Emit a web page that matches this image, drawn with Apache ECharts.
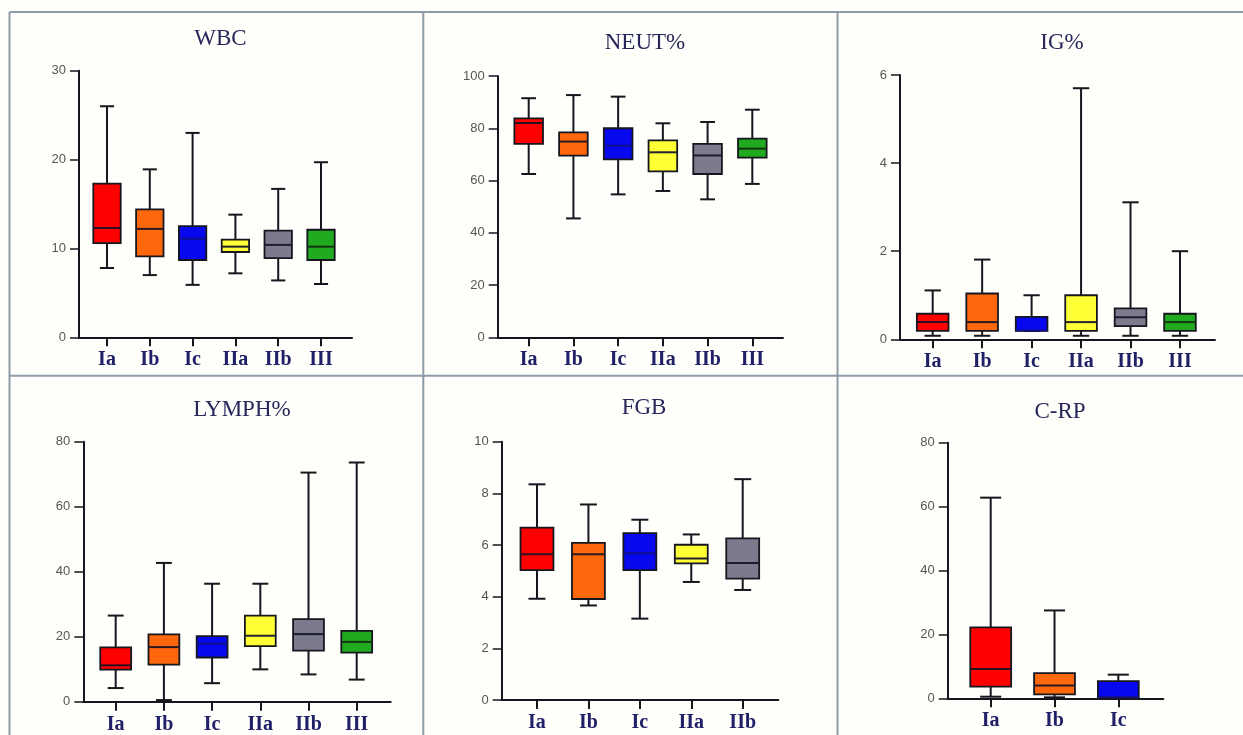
<!DOCTYPE html>
<html>
<head>
<meta charset="utf-8">
<script src="https://cdn.jsdelivr.net/npm/echarts@6/dist/echarts.min.js"></script>
<style>
html,body{margin:0;padding:0;background:#fefefb;}
#c{width:1243px;height:735px;}
</style>
</head>
<body>
<div id="c"></div>
<script>
// ---------- DATA ----------
const titles = ['WBC', 'NEUT%', 'IG%', 'LYMPH%', 'FGB', 'C-RP'];
const groupsSix = ['Ia', 'Ib', 'Ic', 'IIa', 'IIb', 'III'];
const groupsFGB = ['Ia', 'Ib', 'Ic', 'IIa', 'IIb'];
const groupsCRP = ['Ia', 'Ib', 'Ic'];
// each row: [min, Q1, median, Q3, max]
const wbc = [
  [7.8, 10.6, 12.3, 17.3, 26.0],
  [7.0, 9.1, 12.2, 14.4, 18.9],
  [5.9, 8.7, 11.1, 12.5, 23.0],
  [7.2, 9.6, 10.2, 11.0, 13.8],
  [6.4, 8.9, 10.4, 12.0, 16.7],
  [6.0, 8.7, 10.2, 12.1, 19.7]
];
const neut = [
  [62.5, 74.0, 82.0, 83.8, 91.5],
  [45.5, 69.5, 74.9, 78.4, 92.7],
  [54.7, 68.1, 73.3, 80.0, 92.1],
  [56.0, 63.5, 70.8, 75.4, 81.9],
  [52.8, 62.5, 69.6, 74.0, 82.4],
  [58.7, 68.8, 72.2, 76.0, 87.1]
];
const ig = [
  [0.08, 0.19, 0.39, 0.58, 1.11],
  [0.08, 0.19, 0.39, 1.04, 1.81],
  [0.19, 0.19, 0.20, 0.51, 1.00],
  [0.08, 0.19, 0.39, 1.00, 5.70],
  [0.08, 0.30, 0.50, 0.70, 3.11],
  [0.08, 0.19, 0.39, 0.58, 2.00]
];
const lymph = [
  [4.2, 9.85, 11.2, 16.7, 26.5],
  [0.5, 11.4, 16.8, 20.7, 42.7],
  [5.7, 13.6, 17.9, 20.2, 36.3],
  [9.95, 17.1, 20.3, 26.5, 36.3],
  [8.4, 15.7, 20.8, 25.4, 70.5],
  [6.8, 15.1, 18.4, 21.8, 73.6]
];
const fgb = [
  [3.92, 5.03, 5.64, 6.67, 8.35],
  [3.66, 3.91, 5.64, 6.08, 7.57],
  [3.15, 5.03, 5.68, 6.46, 6.98],
  [4.57, 5.29, 5.48, 6.01, 6.41],
  [4.26, 4.70, 5.30, 6.26, 8.55]
];
const crp = [
  [0.5, 3.65, 9.2, 22.2, 62.8],
  [0.3, 1.25, 4.0, 7.9, 27.5],
  [0.2, 0.2, 0.4, 5.4, 7.4]
];
const yMaxes = [30, 100, 6, 80, 10, 80];
const yIntervals = [10, 20, 2, 20, 2, 20];

// ---------- STYLE / LAYOUT ----------
const groupColors = ['#ff0000', '#ff670d', '#0808ee', '#ffff36', '#7b7b8d', '#1faa1f'];
const medianColors = ['#2a1020', '#2a1a20', '#10108a', '#222230', '#1c1c2c', '#123512'];
const INK = '#16161f';
const BOX_W = 0.64;
const CAP_W = 0.33;
const panels = [
  {left: 79,    top: 70.7,  width: 273,   height: 266.6, xMin: -0.654, xMax: 5.724, titleX: 215.5, titleTop: 22},
  {left: 497.7, top: 76,    width: 285.3, height: 261.3, xMin: -0.693, xMax: 5.686, titleX: 640,   titleTop: 26.5},
  {left: 900,   top: 75,    width: 315,   height: 264.3, xMin: -0.661, xMax: 5.708, titleX: 1057,  titleTop: 26.5},
  {left: 83.3,  top: 441.7, width: 307.4, height: 260,   xMin: -0.672, xMax: 5.705, titleX: 237,   titleTop: 393},
  {left: 501.7, top: 441.7, width: 276.6, height: 258.3, xMin: -0.686, xMax: 4.692, titleX: 639,   titleTop: 391.5},
  {left: 947.7, top: 442.7, width: 215.6, height: 255.6, xMin: -0.674, xMax: 2.705, titleX: 1055,  titleTop: 395}
];
const panelData = [wbc, neut, ig, lymph, fgb, crp];
const panelGroups = [groupsSix, groupsSix, groupsSix, groupsSix, groupsFGB, groupsCRP];

function renderItem(params, api) {
  const x = api.value(0);
  const lo = api.coord([x, api.value(1)]);
  const q1 = api.coord([x, api.value(2)]);
  const md = api.coord([x, api.value(3)]);
  const q3 = api.coord([x, api.value(4)]);
  const hi = api.coord([x, api.value(5)]);
  const bw = api.size([BOX_W, 0])[0];
  const cw = api.size([CAP_W, 0])[0];
  const cx = lo[0];
  const i = Math.round(x);
  const lineStyle = {stroke: INK, lineWidth: 2};
  return {
    type: 'group',
    children: [
      {type: 'line', shape: {x1: cx, y1: hi[1], x2: cx, y2: lo[1]}, style: lineStyle},
      {type: 'line', shape: {x1: cx - cw / 2, y1: hi[1], x2: cx + cw / 2, y2: hi[1]}, style: lineStyle},
      {type: 'line', shape: {x1: cx - cw / 2, y1: lo[1], x2: cx + cw / 2, y2: lo[1]}, style: lineStyle},
      {type: 'rect', shape: {x: cx - bw / 2, y: q3[1], width: bw, height: q1[1] - q3[1]},
        style: {fill: groupColors[i], stroke: INK, lineWidth: 1.8}},
      {type: 'line', shape: {x1: cx - bw / 2, y1: md[1], x2: cx + bw / 2, y2: md[1]},
        style: {stroke: medianColors[i], lineWidth: 2}}
    ]
  };
}

const grids = [], xAxes = [], yAxes = [], series = [], titleOpts = [];
panels.forEach((p, k) => {
  const cats = panelGroups[k];
  const idx = cats.map((_, i) => i);
  grids.push({left: p.left, top: p.top, width: p.width, height: p.height, containLabel: false});
  xAxes.push({
    type: 'value', gridIndex: k, min: p.xMin, max: p.xMax,
    axisLine: {show: true, onZero: false, lineStyle: {color: INK, width: 2}},
    axisTick: {show: true, customValues: idx, length: 9, lineStyle: {color: INK, width: 2}},
    axisLabel: {
      customValues: idx, margin: 13, formatter: v => cats[Math.round(v)] || '',
      fontFamily: 'Liberation Serif, Times New Roman, serif', fontWeight: 'bold',
      fontSize: 20, color: '#202068'
    },
    splitLine: {show: false}
  });
  yAxes.push({
    type: 'value', gridIndex: k, min: 0, max: yMaxes[k], interval: yIntervals[k],
    axisLine: {show: true, onZero: false, lineStyle: {color: INK, width: 2}},
    axisTick: {show: true, length: 9, lineStyle: {color: INK, width: 1.5}},
    axisLabel: {margin: 13, fontFamily: 'Liberation Sans, Arial, sans-serif', fontSize: 13, color: '#555'},
    splitLine: {show: false}
  });
  series.push({
    type: 'custom', xAxisIndex: k, yAxisIndex: k,
    renderItem: renderItem,
    encode: {x: 0, y: [1, 2, 3, 4, 5]},
    data: panelData[k].map((r, i) => [i].concat(r)),
    silent: true
  });
  titleOpts.push({
    text: titles[k], left: p.titleX, top: p.titleTop, textAlign: 'center',
    textStyle: {fontFamily: 'Liberation Serif, Times New Roman, serif', fontWeight: 'normal',
      fontSize: 23, color: '#27275a'}
  });
});

const border = {stroke: '#8e9ba8', lineWidth: 2};
const chart = echarts.init(document.getElementById('c'), null, {renderer: 'canvas'});
chart.setOption({
  backgroundColor: '#fefefb',
  animation: false,
  title: titleOpts,
  grid: grids,
  xAxis: xAxes,
  yAxis: yAxes,
  series: series,
  graphic: [
    {type: 'line', shape: {x1: 9.5, y1: 12, x2: 1243, y2: 12}, style: border},
    {type: 'line', shape: {x1: 9.5, y1: 375.7, x2: 1243, y2: 375.7}, style: border},
    {type: 'line', shape: {x1: 9.5, y1: 12, x2: 9.5, y2: 735}, style: border},
    {type: 'line', shape: {x1: 423.3, y1: 12, x2: 423.3, y2: 735}, style: border},
    {type: 'line', shape: {x1: 837.5, y1: 12, x2: 837.5, y2: 735}, style: border}
  ]
});
</script>
</body>
</html>
